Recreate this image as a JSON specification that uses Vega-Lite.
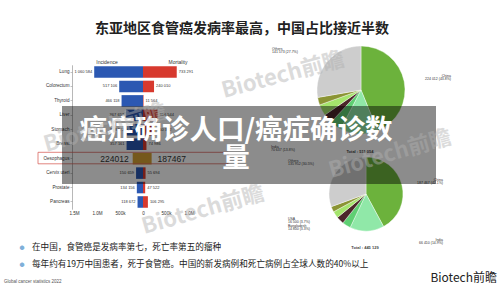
{
  "$schema": "https://vega.github.io/schema/vega-lite/v6.json",
  "width": 500,
  "height": 292,
  "autosize": {"type": "none"},
  "padding": 0,
  "background": "#ffffff",
  "config": {
    "font": "Noto Sans CJK SC",
    "view": {"stroke": null},
    "locale": {"number": {"decimal": ".", "thousands": " ", "grouping": [3], "currency": ["", ""]}}
  },
  "datasets": {
    "bars": [
      {"cancer": "Lung", "measure": "Incidence", "value": 1060584},
      {"cancer": "Lung", "measure": "Mortality", "value": 733291},
      {"cancer": "Colorectum", "measure": "Incidence", "value": 517106},
      {"cancer": "Colorectum", "measure": "Mortality", "value": 240010},
      {"cancer": "Thyroid", "measure": "Incidence", "value": 466118},
      {"cancer": "Thyroid", "measure": "Mortality", "value": 11564},
      {"cancer": "Liver", "measure": "Incidence", "value": 367657},
      {"cancer": "Liver", "measure": "Mortality", "value": 316544},
      {"cancer": "Stomach", "measure": "Incidence", "value": 358672},
      {"cancer": "Stomach", "measure": "Mortality", "value": 260372},
      {"cancer": "Breast", "measure": "Incidence", "value": 357161},
      {"cancer": "Breast", "measure": "Mortality", "value": 74986},
      {"cancer": "Oesophagus", "measure": "Incidence", "value": 224012},
      {"cancer": "Oesophagus", "measure": "Mortality", "value": 187467},
      {"cancer": "Cervix uteri", "measure": "Incidence", "value": 150659},
      {"cancer": "Cervix uteri", "measure": "Mortality", "value": 55694},
      {"cancer": "Prostate", "measure": "Incidence", "value": 134156},
      {"cancer": "Prostate", "measure": "Mortality", "value": 47522},
      {"cancer": "Pancreas", "measure": "Incidence", "value": 118672},
      {"cancer": "Pancreas", "measure": "Mortality", "value": 106295}
    ],
    "pies": [
      {"pie": "Incidence", "k": 1, "country": "China", "cases": 224012, "note": "China\n224 012 (43.8%)"},
      {"pie": "Incidence", "k": 2, "country": "India", "cases": 70637, "note": "India\n70 637 (13.8%)"},
      {"pie": "Incidence", "k": 3, "country": "USA", "cases": 22000, "note": ""},
      {"pie": "Incidence", "k": 4, "country": "Bangladesh", "cases": 17500, "note": ""},
      {"pie": "Incidence", "k": 5, "country": "Japan", "cases": 21000, "note": ""},
      {"pie": "Incidence", "k": 6, "country": "Pakistan", "cases": 14332, "note": ""},
      {"pie": "Incidence", "k": 7, "country": "Others", "cases": 141573, "note": "Others\n141 573 (27.7%)"},
      {"pie": "Mortality", "k": 1, "country": "China", "cases": 187467, "note": "China\n187 467 (42.1%)"},
      {"pie": "Mortality", "k": 2, "country": "India", "cases": 66410, "note": "India\n66 410 (14.9%)"},
      {"pie": "Mortality", "k": 3, "country": "USA", "cases": 16500, "note": "USA\n16 500 (3.7%)"},
      {"pie": "Mortality", "k": 4, "country": "Bangladesh", "cases": 14800, "note": "Bangladesh\n14 800 (3.3%)"},
      {"pie": "Mortality", "k": 5, "country": "Japan", "cases": 13000, "note": ""},
      {"pie": "Mortality", "k": 6, "country": "Pakistan", "cases": 11000, "note": ""},
      {"pie": "Mortality", "k": 7, "country": "Others", "cases": 135952, "note": "Others\n135 952 (30.5%)"}
    ]
  },
  "resolve": {"scale": {"x": "independent", "theta": "independent"}, "axis": {"x": "independent"}},
  "layer": [
    {
      "data": {"name": "bars"},
      "transform": [{"filter": "datum.measure === 'Incidence'"}],
      "encoding": {
        "y": {
          "field": "cancer", "type": "nominal",
          "sort": ["Lung", "Colorectum", "Thyroid", "Liver", "Stomach", "Breast", "Oesophagus", "Cervix uteri", "Prostate", "Pancreas"],
          "scale": {"range": [64.8, 209.2], "paddingInner": 0.2, "paddingOuter": 0.1},
          "axis": {"orient": "left", "offset": -72, "title": null, "domainColor": "#9a9a9a", "domainWidth": 0.7, "tickSize": 2, "tickColor": "#9a9a9a", "tickWidth": 0.6, "labelFontSize": 4.6, "labelColor": "#333333", "labelPadding": 1, "labelFont": "Liberation Sans"}
        },
        "x": {
          "field": "value", "type": "quantitative",
          "scale": {"domain": [0, 1500000], "range": [74, 143], "reverse": true},
          "axis": {"orient": "bottom", "offset": -84, "title": null, "values": [0, 500000, 1000000, 1500000], "labelExpr": "datum.value === 0 ? '0' : format(datum.value, '.2s')", "domain": false, "ticks": false, "grid": false, "labelFontSize": 4.6, "labelColor": "#333333", "labelPadding": 2, "labelFlush": false, "labelOverlap": false, "labelFont": "Liberation Sans"}
        }
      },
      "layer": [
        {
          "mark": {"type": "bar"},
          "encoding": {"color": {"condition": {"test": "datum.cancer === 'Oesophagus'", "value": "#d6a034"}, "value": "#2b58b2"}}
        },
        {
          "transform": [{"filter": "datum.cancer !== 'Oesophagus'"}],
          "mark": {"type": "text", "align": "right", "baseline": "middle", "dx": -2, "fontSize": 4, "fill": "#333333", "font": "Liberation Sans"},
          "encoding": {"text": {"field": "value", "type": "quantitative", "format": ",d"}}
        },
        {
          "transform": [{"filter": "datum.cancer === 'Oesophagus'"}],
          "mark": {"type": "text", "align": "right", "baseline": "middle", "dx": -4, "fontSize": 8.5, "fill": "#333333", "font": "Liberation Sans"},
          "encoding": {"text": {"field": "value", "type": "quantitative", "format": "d"}}
        }
      ]
    },
    {
      "data": {"name": "bars"},
      "transform": [{"filter": "datum.measure === 'Mortality'"}],
      "encoding": {
        "y": {
          "field": "cancer", "type": "nominal",
          "sort": ["Lung", "Colorectum", "Thyroid", "Liver", "Stomach", "Breast", "Oesophagus", "Cervix uteri", "Prostate", "Pancreas"],
          "scale": {"range": [64.8, 209.2], "paddingInner": 0.2, "paddingOuter": 0.1},
          "axis": {"orient": "left", "offset": -72, "title": null, "domainColor": "#9a9a9a", "domainWidth": 0.7, "tickSize": 2, "tickColor": "#9a9a9a", "tickWidth": 0.6, "labelFontSize": 4.6, "labelColor": "#333333", "labelPadding": 1, "labelFont": "Liberation Sans"}
        },
        "x": {
          "field": "value", "type": "quantitative",
          "scale": {"domain": [0, 1500000], "range": [143, 212]},
          "axis": {"orient": "bottom", "offset": -84, "title": null, "values": [500000, 1000000], "labelExpr": "format(datum.value, '.2s')", "domain": false, "ticks": false, "grid": false, "labelFontSize": 4.6, "labelColor": "#333333", "labelPadding": 2, "labelFlush": false, "labelOverlap": false, "labelFont": "Liberation Sans"}
        }
      },
      "layer": [
        {
          "mark": {"type": "bar"},
          "encoding": {"color": {"condition": {"test": "datum.cancer === 'Oesophagus'", "value": "#d6a034"}, "value": "#d7392e"}}
        },
        {
          "transform": [{"filter": "datum.cancer !== 'Oesophagus'"}],
          "mark": {"type": "text", "align": "left", "baseline": "middle", "dx": 2, "fontSize": 4, "fill": "#333333", "font": "Liberation Sans"},
          "encoding": {"text": {"field": "value", "type": "quantitative", "format": ",d"}}
        },
        {
          "transform": [{"filter": "datum.cancer === 'Oesophagus'"}],
          "mark": {"type": "text", "align": "left", "baseline": "middle", "dx": 6, "fontSize": 8.5, "fill": "#333333", "font": "Liberation Sans"},
          "encoding": {"text": {"field": "value", "type": "quantitative", "format": "d"}}
        }
      ]
    },
    {
      "data": {"values": [{"t": "box"}]},
      "mark": {"type": "rect", "x": 38, "x2": 228, "y": 152.3, "y2": 163.8, "fill": null, "fillOpacity": 0, "stroke": "#d9655e", "strokeWidth": 0.8},
      "encoding": {}
    },
    {
      "data": {"name": "pies"},
      "transform": [{"filter": "datum.pie === 'Incidence'"}],
      "mark": {"type": "arc", "x": 361, "y": 90, "outerRadius": 44, "stroke": "#ffffff", "strokeWidth": 0.4},
      "encoding": {
        "theta": {"field": "cases", "type": "quantitative", "stack": true},
        "order": {"field": "k", "type": "quantitative"},
        "color": {"field": "country", "type": "nominal", "legend": null,
          "scale": {"domain": ["China", "India", "USA", "Bangladesh", "Japan", "Pakistan", "Others"],
                    "range": ["#6cb23c", "#90e8a8", "#5fcf73", "#4b2629", "#a5e46c", "#8b9434", "#cdcdcd"]}}
      }
    },
    {
      "data": {"name": "pies"},
      "transform": [{"filter": "datum.pie === 'Mortality'"}],
      "mark": {"type": "arc", "x": 366, "y": 194, "outerRadius": 37, "stroke": "#ffffff", "strokeWidth": 0.4},
      "encoding": {
        "theta": {"field": "cases", "type": "quantitative", "stack": true},
        "order": {"field": "k", "type": "quantitative"},
        "color": {"field": "country", "type": "nominal", "legend": null,
          "scale": {"domain": ["China", "India", "USA", "Bangladesh", "Japan", "Pakistan", "Others"],
                    "range": ["#6cb23c", "#90e8a8", "#5fcf73", "#4b2629", "#a5e46c", "#8b9434", "#cdcdcd"]}}
      }
    },
    {
      "data": {"name": "pies"},
      "transform": [{"filter": "datum.pie === 'Incidence' && datum.country === 'Others'"}],
      "mark": {"type": "text", "x": 272, "y": 46.8, "align": "left", "baseline": "top", "lineBreak": "\n", "lineHeight": 3.2, "fontSize": 3.5, "fill": "#333333", "font": "Liberation Sans"},
      "encoding": {"text": {"field": "note", "type": "nominal"}}
    },
    {
      "data": {"name": "pies"},
      "transform": [{"filter": "datum.pie === 'Incidence' && datum.country === 'China'"}],
      "mark": {"type": "text", "x": 451, "y": 73.8, "align": "right", "baseline": "top", "lineBreak": "\n", "lineHeight": 3.2, "fontSize": 3.5, "fill": "#333333", "font": "Liberation Sans"},
      "encoding": {"text": {"field": "note", "type": "nominal"}}
    },
    {
      "data": {"name": "pies"},
      "transform": [{"filter": "datum.pie === 'Incidence' && datum.country === 'India'"}],
      "mark": {"type": "text", "x": 271, "y": 144.5, "align": "left", "baseline": "top", "lineBreak": "\n", "lineHeight": 3.2, "fontSize": 3.5, "fill": "#333333", "font": "Liberation Sans"},
      "encoding": {"text": {"field": "note", "type": "nominal"}}
    },
    {
      "data": {"name": "pies"},
      "transform": [{"filter": "datum.pie === 'Mortality' && datum.country === 'Others'"}],
      "mark": {"type": "text", "x": 288, "y": 158.5, "align": "left", "baseline": "top", "lineBreak": "\n", "lineHeight": 3.2, "fontSize": 3.5, "fill": "#333333", "font": "Liberation Sans"},
      "encoding": {"text": {"field": "note", "type": "nominal"}}
    },
    {
      "data": {"name": "pies"},
      "transform": [{"filter": "datum.pie === 'Mortality' && datum.country === 'China'"}],
      "mark": {"type": "text", "x": 443, "y": 177.5, "align": "right", "baseline": "top", "lineBreak": "\n", "lineHeight": 3.2, "fontSize": 3.5, "fill": "#333333", "font": "Liberation Sans"},
      "encoding": {"text": {"field": "note", "type": "nominal"}}
    },
    {
      "data": {"name": "pies"},
      "transform": [{"filter": "datum.pie === 'Mortality' && datum.country === 'USA'"}],
      "mark": {"type": "text", "x": 288, "y": 217.3, "align": "left", "baseline": "top", "lineBreak": "\n", "lineHeight": 3.2, "fontSize": 3.5, "fill": "#333333", "font": "Liberation Sans"},
      "encoding": {"text": {"field": "note", "type": "nominal"}}
    },
    {
      "data": {"name": "pies"},
      "transform": [{"filter": "datum.pie === 'Mortality' && datum.country === 'Bangladesh'"}],
      "mark": {"type": "text", "x": 288, "y": 224.3, "align": "left", "baseline": "top", "lineBreak": "\n", "lineHeight": 3.2, "fontSize": 3.5, "fill": "#333333", "font": "Liberation Sans"},
      "encoding": {"text": {"field": "note", "type": "nominal"}}
    },
    {
      "data": {"name": "pies"},
      "transform": [{"filter": "datum.pie === 'Mortality' && datum.country === 'India'"}],
      "mark": {"type": "text", "x": 443, "y": 237.5, "align": "right", "baseline": "top", "lineBreak": "\n", "lineHeight": 3.2, "fontSize": 3.5, "fill": "#333333", "font": "Liberation Sans"},
      "encoding": {"text": {"field": "note", "type": "nominal"}}
    },
    {
      "data": {"values": [{"t": "东亚地区食管癌发病率最高，中国占比接近半数"}]},
      "mark": {"type": "text", "x": 242, "y": 29, "align": "center", "baseline": "middle", "fontSize": 14, "fontWeight": "bold", "fill": "#222222"},
      "encoding": {"text": {"field": "t", "type": "nominal"}}
    },
    {
      "data": {"values": [{"t": "Incidence"}]},
      "mark": {"type": "text", "x": 107, "y": 62, "align": "center", "baseline": "middle", "fontSize": 5, "fill": "#333333", "font": "Liberation Sans"},
      "encoding": {"text": {"field": "t", "type": "nominal"}}
    },
    {
      "data": {"values": [{"t": "Mortality"}]},
      "mark": {"type": "text", "x": 178, "y": 62, "align": "center", "baseline": "middle", "fontSize": 5, "fill": "#333333", "font": "Liberation Sans"},
      "encoding": {"text": {"field": "t", "type": "nominal"}}
    },
    {
      "data": {"values": [{"t": "Total : 511 054"}]},
      "mark": {"type": "text", "x": 360, "y": 152, "align": "center", "baseline": "middle", "fontSize": 4, "fontWeight": "bold", "fill": "#444444", "font": "Liberation Sans"},
      "encoding": {"text": {"field": "t", "type": "nominal"}}
    },
    {
      "data": {"values": [{"t": "Total : 445 129"}]},
      "mark": {"type": "text", "x": 365, "y": 248, "align": "center", "baseline": "middle", "fontSize": 4, "fontWeight": "bold", "fill": "#444444", "font": "Liberation Sans"},
      "encoding": {"text": {"field": "t", "type": "nominal"}}
    },
    {
      "data": {"values": [{"t": "●"}]},
      "mark": {"type": "text", "x": 22, "y": 247, "align": "center", "baseline": "middle", "fontSize": 5, "fill": "#7fb0d9"},
      "encoding": {"text": {"field": "t", "type": "nominal"}}
    },
    {
      "data": {"values": [{"t": "●"}]},
      "mark": {"type": "text", "x": 22, "y": 263.5, "align": "center", "baseline": "middle", "fontSize": 5, "fill": "#7fb0d9"},
      "encoding": {"text": {"field": "t", "type": "nominal"}}
    },
    {
      "data": {"values": [{"t": "在中国，食管癌是发病率第七，死亡率第五的瘤种"}]},
      "mark": {"type": "text", "x": 32, "y": 247, "align": "left", "baseline": "middle", "fontSize": 8.6, "fill": "#222222"},
      "encoding": {"text": {"field": "t", "type": "nominal"}}
    },
    {
      "data": {"values": [{"t": "每年约有19万中国患者，死于食管癌。中国的新发病例和死亡病例占全球人数的40%以上"}]},
      "mark": {"type": "text", "x": 32, "y": 263.5, "align": "left", "baseline": "middle", "fontSize": 8.6, "fill": "#222222"},
      "encoding": {"text": {"field": "t", "type": "nominal"}}
    },
    {
      "data": {"values": [{"t": "Global cancer statistics 2022"}]},
      "mark": {"type": "text", "x": 4, "y": 282, "align": "left", "baseline": "middle", "fontSize": 4.5, "fill": "#555555", "font": "Liberation Sans"},
      "encoding": {"text": {"field": "t", "type": "nominal"}}
    },
    {
      "data": {"values": [{"t": "Biotech前瞻"}]},
      "mark": {"type": "text", "x": 497, "y": 278, "align": "right", "baseline": "middle", "fontSize": 12, "fill": "#222222"},
      "encoding": {"text": {"field": "t", "type": "nominal"}}
    },
    {
      "data": {"values": [{"t": "band"}]},
      "mark": {"type": "rect", "x": 62, "x2": 436, "y": 106, "y2": 184, "fill": "#000000", "opacity": 0.45},
      "encoding": {}
    },
    {
      "data": {"values": [{"t": "癌症确诊人口/癌症确诊数\n量"}]},
      "mark": {"type": "text", "x": 236, "y": 117, "align": "center", "baseline": "top", "lineBreak": "\n", "lineHeight": 28, "fontSize": 27.5, "fontWeight": "bold", "fill": "#ffffff"},
      "encoding": {"text": {"field": "t", "type": "nominal"}}
    },
    {
      "data": {"values": [{"t": "Biotech前瞻"}]},
      "mark": {"type": "text", "x": 283, "y": 75, "align": "center", "baseline": "middle", "angle": -15, "fontSize": 22, "fontWeight": "bold", "fill": "#b0b0b0", "opacity": 0.45},
      "encoding": {"text": {"field": "t", "type": "nominal"}}
    },
    {
      "data": {"values": [{"t": "Biotech前瞻"}]},
      "mark": {"type": "text", "x": 390, "y": 154, "align": "center", "baseline": "middle", "angle": -16, "fontSize": 22, "fontWeight": "bold", "fill": "#b0b0b0", "opacity": 0.45},
      "encoding": {"text": {"field": "t", "type": "nominal"}}
    },
    {
      "data": {"values": [{"t": "Biotech前瞻"}]},
      "mark": {"type": "text", "x": 203, "y": 210, "align": "center", "baseline": "middle", "angle": -16, "fontSize": 22, "fontWeight": "bold", "fill": "#b0b0b0", "opacity": 0.45},
      "encoding": {"text": {"field": "t", "type": "nominal"}}
    },
    {
      "data": {"values": [{"t": "Biotech前瞻"}]},
      "mark": {"type": "text", "x": 105, "y": 128, "align": "center", "baseline": "middle", "angle": -16, "fontSize": 22, "fontWeight": "bold", "fill": "#b0b0b0", "opacity": 0.45},
      "encoding": {"text": {"field": "t", "type": "nominal"}}
    }
  ]
}
